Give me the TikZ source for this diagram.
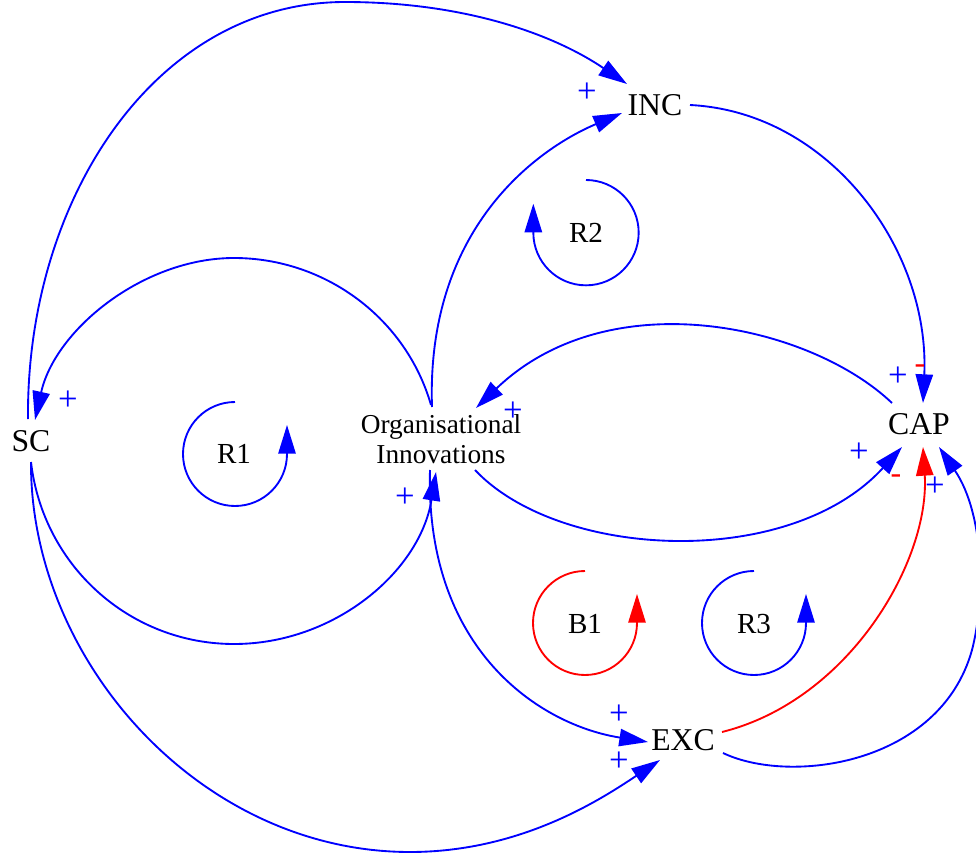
\documentclass[tikz,border=0pt]{standalone}
\usepackage{fontspec}
\setmainfont{Liberation Serif}
\usetikzlibrary{arrows.meta,calc}
\begin{document}
\begin{tikzpicture}[x=0.75pt,y=-0.75pt,
  var/.style={font=\fontsize{23.8}{28}\selectfont, inner sep=0pt},
  orgstyle/.style={font=\fontsize{20.5}{22.5}\selectfont, align=center, inner sep=0pt},
  loopname/.style={font=\fontsize{21.8}{26}\selectfont, inner sep=0pt},
  pol/.style={font=\fontsize{26}{30}\selectfont, text=blue, inner sep=0pt},
  neg/.style={font=\fontsize{24}{28}\selectfont, text=red, inner sep=0pt},
  link/.style={color=blue, line width=1.4pt, -{Triangle[length=21.5pt,width=13pt]}},
  neglink/.style={link, color=red},
  loopline/.style={color=blue, line width=1.4pt, -{Triangle[length=21.5pt,width=13pt]}},
  negloop/.style={loopline, color=red}
]
\useasboundingbox (0,0) rectangle (976,853);

% variables
\node[var] (sc)  at (31,441)  {SC};
\node[var] (inc) at (655,105) {INC};
\node[var] (cap) at (919,424) {CAP};
\node[var] (exc) at (683,740) {EXC};
\node[orgstyle] (org) at (441,439) {Organisational\\Innovations};

% loop labels
\node[loopname] (r1) at (234,454) {R1};
\node[loopname] (r2) at (586,233) {R2};
\node[loopname] (b1) at (585,624) {B1};
\node[loopname] (r3) at (754,624) {R3};

% loop arrows
\draw[loopline] ($(r1)+(1,-52)$) arc[start angle=90, end angle=360, radius=39pt] -- ++(0,-29);
\draw[loopline] ($(r2)+(0,-53)$) arc[start angle=90, end angle=-180, radius=39.5pt] -- ++(0,-29);
\draw[negloop]  ($(b1)+(0,-53)$) arc[start angle=90, end angle=360, radius=39pt] -- ++(0,-29);
\draw[loopline] ($(r3)+(0,-53)$) arc[start angle=90, end angle=360, radius=39pt] -- ++(0,-29);

% links
\draw[link] ($(sc)+(-3,-22)$) .. controls (26,200) and (155,2) .. (345,2)
            .. controls (460,2) and (550,32) .. ($(inc)+(-28,-21)$);
\draw[link] ($(org)+(-9,-32)$) .. controls (426,230) and (535,150) .. ($(inc)+(-33,8)$);
\draw[link] ($(inc)+(35,0)$) .. controls (830,112) and (930,250) .. ($(cap)+(4,-21)$);
\draw[link] ($(cap)+(-27,-21)$) .. controls (810,325) and (610,280) .. ($(org)+(35,-31)$);
\draw[link] ($(org)+(34,31)$) .. controls (560,560) and (790,570) .. ($(cap)+(-17,23)$);
\draw[link] ($(org)+(-10,-34)$) .. controls (406,318) and (325,258) .. (234,258)
            .. controls (143,258) and (55,330) .. ($(sc)+(4,-21)$);
\draw[link] ($(sc)+(0,21)$) .. controls (43,566) and (130,644) .. (234,644)
            .. controls (335,644) and (420,571) .. ($(org)+(-5,33)$);
\draw[link] ($(org)+(-11,31)$) .. controls (425,650) and (540,725) .. ($(exc)+(-35,2)$);
\draw[link] ($(sc)+(0,21)$) .. controls (30,660) and (200,852) .. (410,852)
            .. controls (520,852) and (600,800) .. ($(exc)+(-23,20)$);
\draw[neglink] ($(exc)+(39,-8)$) .. controls (850,700) and (930,560) .. ($(cap)+(4,23)$);
\draw[link] ($(exc)+(40,13)$) .. controls (790,785) and (940,765) .. (972,650)
            .. controls (985,600) and (985,515) .. ($(cap)+(20,23)$);

% polarity labels
\node[pol] (p1) at (587,93)  {+};
\node[pol] (p2) at (68,401)  {+};
\node[pol] (p3) at (513,412) {+};
\node[pol] (p4) at (405,498) {+};
\node[pol] (p5) at (898,377) {+};
\node[neg] (m1) at (920,369) {-};
\node[pol] (p6) at (859,453) {+};
\node[neg] (m2) at (896,479) {-};
\node[pol] (p7) at (935,487) {+};
\node[pol] (p8) at (619,715) {+};
\node[pol] (p9) at (619,762) {+};
\end{tikzpicture}
\end{document}
